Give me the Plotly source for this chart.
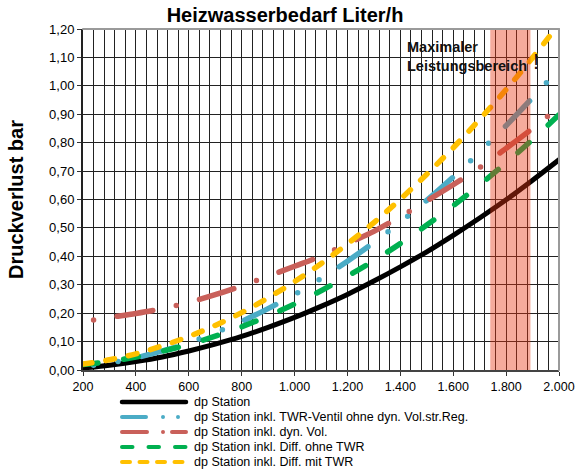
import plotly.graph_objects as go

# Heizwasserbedarf (Liter/h)
flow = [200, 300, 400, 500, 600, 700, 800, 900, 1000, 1100,
        1200, 1300, 1400, 1500, 1600, 1700, 1800, 1900, 2000]
flow_from_240 = [240, 300, 400, 500, 600, 700, 800, 900, 1000, 1100,
                 1200, 1300, 1400, 1500, 1600, 1700, 1800, 1900, 2000]

# Druckverlust (bar)
dp_station = [0.007, 0.017, 0.030, 0.046, 0.067, 0.091, 0.118, 0.150, 0.185, 0.224,
              0.266, 0.313, 0.363, 0.416, 0.474, 0.535, 0.599, 0.668, 0.740]
dp_twr_ventil = [0.017, 0.025, 0.043, 0.067, 0.096, 0.131, 0.171, 0.216, 0.266, 0.322,
                 0.383, 0.449, 0.520, 0.597, 0.679, 0.767, 0.860, 0.958, 1.060]
dp_dyn_vol = [0.176, 0.185, 0.199, 0.216, 0.238, 0.265, 0.296, 0.330, 0.365, 0.401,
              0.445, 0.488, 0.540, 0.595, 0.652, 0.712, 0.780, 0.850, 0.925]
dp_diff_ohne_twr = [0.019, 0.030, 0.046, 0.066, 0.090, 0.119, 0.152, 0.190, 0.232, 0.279,
                    0.330, 0.385, 0.445, 0.510, 0.578, 0.652, 0.729, 0.811, 0.898]
dp_diff_mit_twr = [0.021, 0.036, 0.057, 0.085, 0.118, 0.157, 0.202, 0.254, 0.311, 0.374,
                   0.444, 0.519, 0.601, 0.689, 0.782, 0.882, 0.987, 1.099, 1.217]

# max. Leistungsbereich (Liter/h)
max_range = [1740, 1892]

series = [
    ("dp Station", flow, dp_station, "black", "solid", 5),
    ("dp Station inkl. TWR-Ventil ohne dyn. Vol.str.Reg.", flow_from_240, dp_twr_ventil,
     "#4BACC6", "0px,25px,0px,24px,35px,25px", 5.5),
    ("dp Station inkl. dyn. Vol.", flow_from_240, dp_dyn_vol,
     "#C9605A", "0px,24px,36px,24px", 5.5),
    ("dp Station inkl. Diff. ohne TWR", flow, dp_diff_ohne_twr,
     "#00B050", "15px,26px", 5.5),
    ("dp Station inkl. Diff. mit TWR", flow, dp_diff_mit_twr,
     "#FFC000", "9px,14px", 5.5),
]
legend_dash = [
    "solid",
    "24px,17px,0px,15px,0px,17px",
    "25px,16px,0px,9px",
    "10.5px,16px",
    "8px,9.5px",
]

# plot area in pixels (for legend / title placement)
L, R, T, B = 83, 559, 29, 370


def px_x(px):
    return (px - L) / (R - L)


def px_y(py):
    return (B - py) / (B - T)


fig = go.Figure()
for name, xs, ys, color, dash, width in series:
    fig.add_trace(
        go.Scatter(
            x=xs,
            y=ys,
            mode="lines",
            name=name,
            line={"color": color, "dash": dash, "width": width, "shape": "spline"},
            showlegend=False,
        )
    )

shapes = [
    {
        "type": "rect", "xref": "x", "yref": "paper",
        "x0": max_range[0], "x1": max_range[1], "y0": 0, "y1": 1,
        "fillcolor": "rgb(230,55,20)", "opacity": 0.42,
        "line": {"width": 0}, "layer": "above",
    },
    {"type": "line", "xref": "paper", "yref": "paper", "x0": 0, "x1": 1, "y0": 1, "y1": 1,
     "line": {"color": "#9a9a9a", "width": 2}, "layer": "above"},
    {"type": "line", "xref": "paper", "yref": "paper", "x0": 1, "x1": 1, "y0": 0, "y1": 1,
     "line": {"color": "#9a9a9a", "width": 2}, "layer": "above"},
]
annotations = [
    {
        "text": "<b>Maximaler<br>Leistungsbereich</b>", "xref": "x", "yref": "y",
        "x": 1418, "y": 1.105, "xanchor": "left", "yanchor": "middle", "align": "left",
        "showarrow": False, "font": {"size": 14.5, "color": "#111"},
    },
    {
        "text": "!", "xref": "x", "yref": "y", "x": 1913, "y": 1.084,
        "xanchor": "center", "yanchor": "middle", "showarrow": False,
        "font": {"size": 22, "color": "#111"},
    },
]

# legend drawn below the chart
rows = [402, 417, 432, 447, 462]
for (name, _, _, color, _, width), dash, row in zip(series, legend_dash, rows):
    shapes.append(
        {"type": "line", "xref": "paper", "yref": "paper",
         "x0": px_x(122), "x1": px_x(186), "y0": px_y(row), "y1": px_y(row),
         "line": {"color": color, "width": 4.5 if dash == "solid" else 4, "dash": dash}}
    )
    annotations.append(
        {"text": name, "xref": "paper", "yref": "paper", "x": px_x(192), "y": px_y(row),
         "xanchor": "left", "yanchor": "middle", "showarrow": False,
         "font": {"size": 12.5, "color": "black"}}
    )

fig.update_layout(
    width=575,
    height=470,
    margin={"l": L, "r": 575 - R, "t": T, "b": 470 - B},
    paper_bgcolor="white",
    plot_bgcolor="white",
    separators=",.",
    font={"family": "Arial, 'Liberation Sans', sans-serif", "color": "black", "size": 13},
    title={
        "text": "<b>Heizwasserbedarf Liter/h</b>",
        "font": {"size": 20, "color": "black"},
        "x": 285 / 575, "xref": "container", "xanchor": "center",
        "y": 1 - 15 / 470, "yref": "container", "yanchor": "middle",
    },
    xaxis={
        "range": [200, 2000], "tick0": 200, "dtick": 200, "tickformat": ",",
        "ticks": "outside", "ticklen": 4, "tickcolor": "#333",
        "showgrid": True, "gridcolor": "#222", "gridwidth": 1,
        "minor": {"dtick": 40, "showgrid": True, "gridcolor": "#222", "gridwidth": 1},
        "showline": True, "linecolor": "#444", "linewidth": 2,
        "zeroline": False, "tickfont": {"size": 12.5}, "automargin": False,
        "ticklabeloverflow": "allow",
    },
    yaxis={
        "range": [0, 1.2], "tick0": 0, "dtick": 0.1, "tickformat": ".2f",
        "ticks": "outside", "ticklen": 4, "tickcolor": "#333",
        "showgrid": True, "gridcolor": "#222", "gridwidth": 1,
        "showline": True, "linecolor": "#222", "linewidth": 2,
        "zeroline": False, "tickfont": {"size": 13}, "automargin": False,
        "title": {"text": "<b>Druckverlust bar</b>", "font": {"size": 20}, "standoff": 20},
    },
    shapes=shapes,
    annotations=annotations,
)

page_fix = (
    "document.body.style.margin='0';"
    "var s=document.createElement('style');"
    "s.textContent='.js-line,.shapelayer path{stroke-linecap:round}';"
    "document.head.appendChild(s);"
)
fig.write_html("out.html", post_script=page_fix, config={"displayModeBar": False})
